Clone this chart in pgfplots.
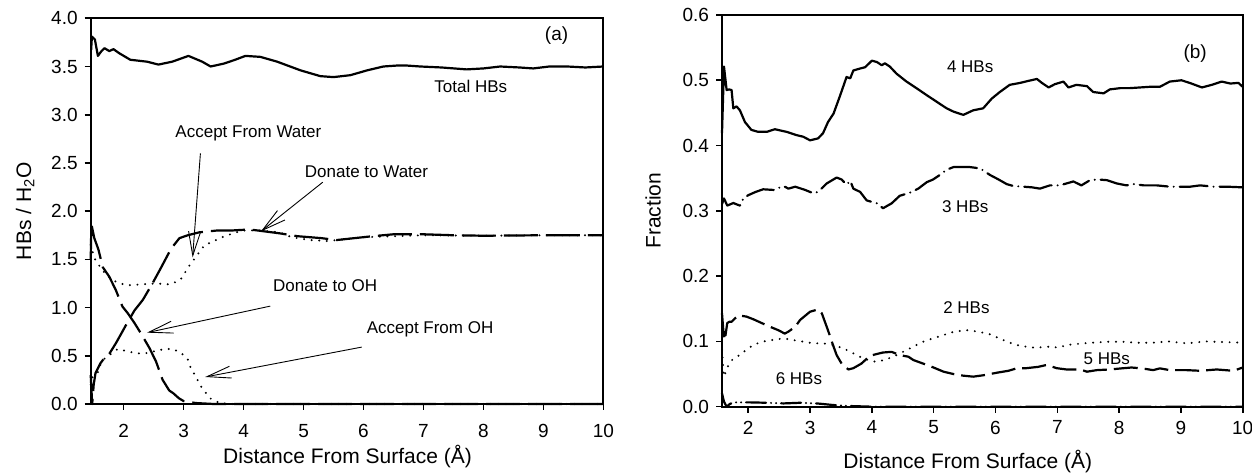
\documentclass[border=0pt]{standalone}
\usepackage{fontspec}
\setmainfont{Liberation Sans}
\usepackage{pgfplots}
\pgfplotsset{compat=1.18}
\usetikzlibrary{arrows.meta}

\tikzset{
  ann/.style={font=\fontsize{8.5}{10}\selectfont, inner sep=0pt},
  arr/.style={line width=0.45pt, -{Straight Barb[length=12pt,width=6pt,line width=0.45pt]}},
}
\pgfplotsset{
  myaxis/.style={
    scale only axis,
    axis line style={line width=0.9pt},
    tick align=outside,
    xtick pos=bottom, ytick pos=left,
    major tick length=3pt,
    tick style={black, line width=0.8pt},
    /pgf/number format/assume math mode=true,
    every tick label/.append style={font=\fontsize{9.5}{11}\selectfont},
    label style={font=\fontsize{10.5}{12}\selectfont},
    clip=false,
  },
  curve/.style={black, line width=1.1pt, line join=round},
  longdash/.style={curve, dash pattern=on 17pt off 4pt},
  dotline/.style={curve, line cap=round, dash pattern=on 0pt off 3.8pt},
  dashdot/.style={curve, line cap=round, dash pattern=on 14pt off 3pt on 0pt off 3pt},
  meddash/.style={curve, dash pattern=on 12pt off 3.5pt},
  dashdotdot/.style={curve, line cap=round, dash pattern=on 10pt off 2.5pt on 0pt off 2.5pt on 0pt off 2.5pt},
}

\begin{document}
\begin{tikzpicture}
\path[use as bounding box] (0,0) rectangle (626pt,237pt);

% ---------------- panel (a) ----------------
\begin{axis}[myaxis,
  at={(45.35pt,35pt)}, anchor=south west,
  width=256.3pt, height=192.85pt,
  xmin=1.45, xmax=10, ymin=0, ymax=4,
  xtick={2,3,4,5,6,7,8,9,10},
  ytick={0,0.5,1,1.5,2,2.5,3,3.5,4},
  xticklabel style={yshift=-3.5pt},
  yticklabel style={/pgf/number format/.cd, fixed, fixed zerofill, precision=1},
  xlabel={Distance From Surface (Å)},
  ylabel={HBs / H\textsubscript{2}O},
  xlabel style={at={(axis description cs:0.501,-0.137)}, anchor=center},
  ylabel style={at={(axis description cs:-0.128,0.5)}, anchor=center},
]
% Total HBs
\addplot[curve] coordinates {
(1.457,3.67)(1.47,3.81)(1.52,3.78)(1.57,3.61)(1.63,3.66)(1.68,3.69)(1.76,3.66)
(1.83,3.68)(1.92,3.64)(2.11,3.57)(2.39,3.55)(2.58,3.52)(2.81,3.55)(3.08,3.61)
(3.31,3.55)(3.45,3.50)(3.67,3.53)(3.86,3.57)(4.03,3.61)(4.28,3.60)(4.56,3.55)
(4.95,3.46)(5.28,3.40)(5.50,3.39)(5.78,3.41)(6.06,3.46)(6.33,3.50)(6.56,3.51)
(6.72,3.51)(6.95,3.50)(7.3,3.49)(7.72,3.47)(8.0,3.48)(8.28,3.50)(8.6,3.49)
(8.83,3.48)(9.1,3.50)(9.4,3.50)(9.7,3.49)(10,3.50)};
% Accept From Water
\addplot[longdash] coordinates {
(1.45,0.30)(1.475,0.0)(1.50,0.20)(1.53,0.32)(1.61,0.42)(1.67,0.47)(1.76,0.52)
(1.87,0.63)(1.96,0.73)(2.04,0.82)(2.18,0.97)(2.32,1.08)(2.48,1.25)(2.62,1.41)
(2.79,1.61)(2.93,1.72)(3.07,1.75)(3.26,1.78)(3.57,1.80)(3.82,1.80)(4.1,1.81)
(4.6,1.77)(4.9,1.74)(5.3,1.72)(5.55,1.70)(6.15,1.74)(6.5,1.76)(7.0,1.76)
(7.5,1.75)(8.0,1.745)(9.0,1.75)(10,1.75)};
% Donate to Water
\addplot[dotline] coordinates {
(1.45,1.65)(1.47,1.60)(1.53,1.49)(1.61,1.42)(1.72,1.33)(1.89,1.26)(2.06,1.23)
(2.28,1.24)(2.55,1.25)(2.78,1.24)(2.95,1.29)(3.09,1.43)(3.21,1.53)(3.35,1.65)
(3.48,1.68)(3.60,1.72)(3.73,1.75)(3.98,1.80)(4.26,1.80)(4.6,1.78)(4.8,1.73)
(5.1,1.70)(5.4,1.69)(5.7,1.71)(6.0,1.73)(6.5,1.74)(7,1.75)(8,1.745)(9,1.75)(10,1.75)};
% Donate to OH
\addplot[longdash] coordinates {
(1.45,1.50)(1.462,1.89)(1.47,1.84)(1.51,1.72)(1.58,1.60)(1.65,1.42)(1.76,1.32)
(1.87,1.18)(1.98,1.01)(2.07,0.94)(2.18,0.84)(2.29,0.73)(2.43,0.58)(2.54,0.44)
(2.65,0.25)(2.76,0.14)(2.83,0.11)(2.92,0.06)(3.0,0.03)(3.2,0.01)(3.5,0.0)(10,0.0)};
% Accept From OH
\addplot[dotline] coordinates {
(1.45,0.20)(1.48,0.28)(1.52,0.30)(1.57,0.33)(1.62,0.42)(1.68,0.47)(1.79,0.52)
(1.90,0.57)(2.04,0.55)(2.18,0.53)(2.32,0.52)(2.46,0.54)(2.68,0.57)(2.82,0.57)
(2.96,0.53)(3.07,0.46)(3.12,0.37)(3.21,0.28)(3.26,0.21)(3.35,0.13)(3.46,0.05)
(3.6,0.01)(3.8,0.0)(10,0.0)};

\node[ann] at (axis cs:7.79,3.29) {Total HBs};
\node[ann] at (axis cs:9.22,3.82) {\fontsize{9.5}{11}\selectfont (a)};
\node[ann] at (axis cs:4.08,2.81) {Accept From Water};
\node[ann] at (axis cs:6.05,2.41) {Donate to Water};
\node[ann] at (axis cs:5.36,1.223) {Donate to OH};
\node[ann] at (axis cs:7.11,0.777) {Accept From OH};
\draw[arr] (axis cs:3.28,2.60) -- (axis cs:3.15,1.52);
\draw[arr] (axis cs:5.32,2.30) -- (axis cs:4.29,1.79);
\draw[arr] (axis cs:4.445,1.015) -- (axis cs:2.39,0.74);
\draw[arr] (axis cs:5.97,0.59) -- (axis cs:3.36,0.28);
\end{axis}

% ---------------- panel (b) ----------------
\begin{axis}[myaxis,
  at={(361pt,33.65pt)}, anchor=south west,
  width=260.35pt, height=195.85pt,
  xmin=1.575, xmax=10, ymin=0, ymax=0.6,
  xtick={2,3,4,5,6,7,8,9,10},
  ytick={0,0.1,0.2,0.3,0.4,0.5,0.6},
  xticklabel style={yshift=-0.5pt},
  yticklabel style={/pgf/number format/.cd, fixed, fixed zerofill, precision=1},
  xlabel={Distance From Surface (Å)},
  ylabel={Fraction},
  xlabel style={at={(axis description cs:0.472,-0.141)}, anchor=center},
  ylabel style={at={(axis description cs:-0.1325,0.5)}, anchor=center},
]
% 4 HBs
\addplot[curve] coordinates {
(1.575,0.419)(1.607,0.521)(1.65,0.485)(1.69,0.486)(1.73,0.485)(1.758,0.457)
(1.81,0.46)(1.865,0.454)(1.946,0.436)(2.05,0.424)(2.16,0.421)(2.30,0.421)
(2.43,0.425)(2.62,0.421)(2.78,0.416)(2.89,0.4135)(3.0,0.408)(3.13,0.411)
(3.21,0.419)(3.29,0.436)(3.38,0.449)(3.48,0.475)(3.59,0.505)(3.65,0.503)
(3.70,0.515)(3.81,0.518)(3.89,0.52)(4.0,0.53)(4.08,0.528)(4.16,0.523)
(4.21,0.526)(4.29,0.521)(4.40,0.51)(4.56,0.498)(4.72,0.488)(4.89,0.477)
(5.05,0.467)(5.21,0.457)(5.32,0.452)(5.48,0.447)(5.64,0.454)(5.80,0.457)
(5.94,0.472)(6.07,0.482)(6.23,0.493)(6.40,0.496)(6.53,0.499)(6.67,0.502)
(6.75,0.496)(6.86,0.489)(6.96,0.494)(7.10,0.498)(7.18,0.489)(7.31,0.493)
(7.48,0.491)(7.58,0.482)(7.75,0.48)(7.85,0.486)(8.02,0.488)(8.18,0.488)
(8.34,0.489)(8.50,0.490)(8.66,0.49)(8.82,0.498)(9.01,0.5)(9.17,0.495)
(9.34,0.489)(9.50,0.493)(9.66,0.498)(9.80,0.495)(9.93,0.496)(10.0,0.49)};
% 3 HBs
\addplot[dashdot] coordinates {
(1.575,0.3105)(1.607,0.319)(1.66,0.308)(1.758,0.312)(1.81,0.31)(1.865,0.308)
(1.92,0.319)(2.0,0.324)(2.12,0.329)(2.24,0.333)(2.41,0.332)(2.57,0.338)
(2.65,0.334)(2.76,0.337)(2.92,0.332)(3.05,0.327)(3.13,0.329)(3.27,0.342)
(3.43,0.351)(3.51,0.348)(3.59,0.34)(3.65,0.346)(3.70,0.334)(3.81,0.329)
(3.915,0.316)(4.08,0.3115)(4.18,0.304)(4.32,0.3115)(4.45,0.323)(4.62,0.328)
(4.75,0.334)(4.89,0.344)(4.99,0.348)(5.10,0.355)(5.21,0.363)(5.32,0.367)
(5.45,0.367)(5.59,0.367)(5.75,0.365)(5.91,0.355)(6.05,0.348)(6.18,0.341)
(6.29,0.338)(6.45,0.337)(6.59,0.336)(6.72,0.334)(6.88,0.339)(7.04,0.339)
(7.26,0.345)(7.39,0.339)(7.53,0.347)(7.66,0.348)(7.80,0.347)(7.96,0.342)
(8.12,0.339)(8.23,0.341)(8.40,0.339)(8.61,0.339)(8.82,0.337)(9.04,0.337)
(9.15,0.337)(9.31,0.339)(9.53,0.337)(9.74,0.337)(10,0.336)};
% 5 HBs
\addplot[meddash] coordinates {
(1.575,0.143)(1.596,0.117)(1.62,0.102)(1.66,0.128)(1.69,0.13)(1.73,0.13)
(1.76,0.133)(1.84,0.14)(1.97,0.138)(2.08,0.134)(2.22,0.128)(2.35,0.1225)
(2.49,0.117)(2.59,0.112)(2.65,0.115)(2.76,0.1225)(2.84,0.133)(3.0,0.1455)
(3.13,0.149)(3.19,0.143)(3.29,0.117)(3.38,0.092)(3.43,0.079)(3.51,0.066)
(3.62,0.057)(3.70,0.059)(3.83,0.066)(3.97,0.078)(4.08,0.0807)(4.18,0.083)
(4.32,0.084)(4.45,0.079)(4.59,0.0766)(4.67,0.0715)(4.83,0.066)(4.99,0.0603)
(5.16,0.0536)(5.32,0.05)(5.48,0.0475)(5.64,0.046)(5.83,0.0485)(6.02,0.052)
(6.21,0.055)(6.34,0.0587)(6.50,0.059)(6.69,0.061)(6.83,0.064)(6.99,0.059)
(7.15,0.057)(7.37,0.057)(7.48,0.0536)(7.64,0.056)(7.85,0.057)(8.04,0.0587)
(8.20,0.06)(8.37,0.0587)(8.55,0.056)(8.66,0.0587)(8.82,0.056)(9.09,0.056)
(9.31,0.055)(9.58,0.057)(9.85,0.055)(10,0.06)};
% 2 HBs
\addplot[dotline] coordinates {
(1.575,0.087)(1.585,0.074)(1.595,0.059)(1.607,0.046)(1.64,0.054)(1.68,0.064)
(1.73,0.071)(1.84,0.078)(1.97,0.087)(2.08,0.0945)(2.22,0.0995)(2.38,0.102)
(2.57,0.1047)(2.73,0.102)(2.89,0.0995)(3.05,0.097)(3.21,0.097)(3.38,0.0945)
(3.54,0.0893)(3.70,0.0817)(3.86,0.074)(4.02,0.069)(4.18,0.071)(4.35,0.0766)
(4.51,0.0843)(4.67,0.092)(4.83,0.0995)(4.99,0.1047)(5.16,0.1098)(5.30,0.114)
(5.51,0.1174)(5.64,0.116)(5.88,0.112)(6.13,0.102)(6.26,0.097)(6.40,0.093)
(6.64,0.0904)(6.88,0.092)(7.02,0.0904)(7.15,0.0945)(7.42,0.097)(7.80,0.0995)
(8.04,0.0995)(8.31,0.098)(8.55,0.098)(8.8,0.1)(9.1,0.097)(9.4,0.1)(9.7,0.099)(10,0.098)};
% 6 HBs
\addplot[dashdotdot] coordinates {
(1.575,0.0205)(1.607,0.0077)(1.65,0.0)(1.70,0.004)(1.76,0.0066)(2.03,0.0066)
(2.30,0.006)(2.57,0.005)(2.84,0.006)(3.11,0.005)(3.38,0.0025)(3.65,0.001)
(4.0,0.0)(10,0.0)};

\node[ann] at (axis cs:5.59,0.52) {4 HBs};
\node[ann] at (axis cs:5.51,0.306) {3 HBs};
\node[ann] at (axis cs:5.53,0.152) {2 HBs};
\node[ann] at (axis cs:7.80,0.074) {5 HBs};
\node[ann] at (axis cs:2.82,0.0435) {6 HBs};
\node[ann] at (axis cs:9.23,0.541) {\fontsize{9.5}{11}\selectfont (b)};
\end{axis}
\end{tikzpicture}
\end{document}
